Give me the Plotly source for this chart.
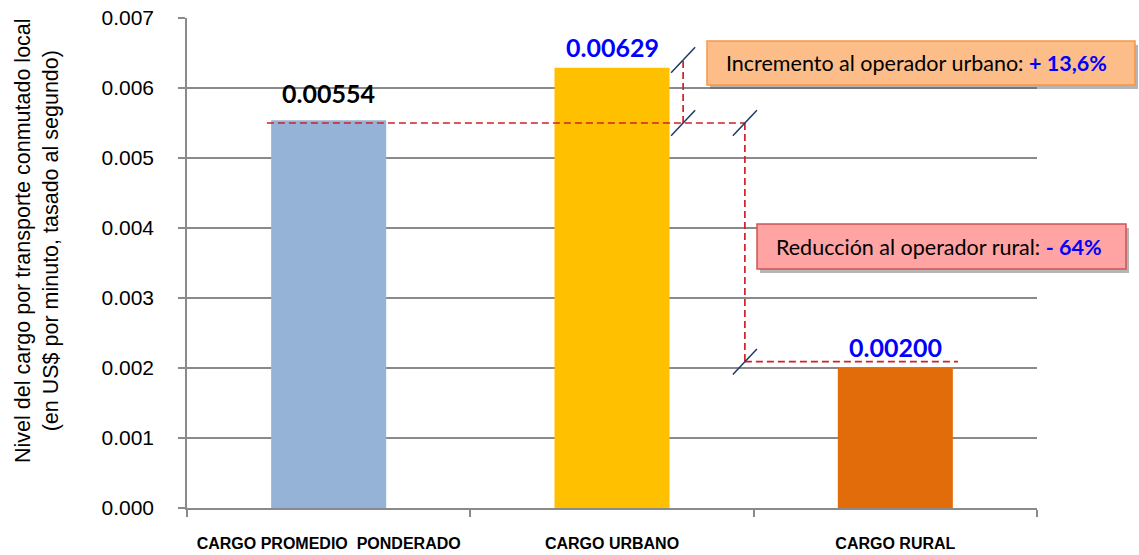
import plotly.graph_objects as go

# ---- data ----
categories = ["CARGO PROMEDIO\u00a0 PONDERADO", "CARGO URBANO", "CARGO RURAL"]
values = [0.00554, 0.00629, 0.00200]
value_labels = ["0.00554", "0.00629", "0.00200"]
increment_text = "Incremento al operador urbano: "
increment_value = "+ 13,6%"
reduction_text = "Reducción al operador rural: "
reduction_value = "- 64%"
y_title_lines = ["Nivel del cargo por transporte conmutado local",
                 "(en US$ por minuto, tasado al segundo)"]

# ---- styles ----
bar_colors = ["#95B3D7", "#FFC000", "#E36C0A"]
label_colors = ["#000000", "#0000FF", "#0000FF"]
label_shift = [27, 21, 21]
grid = "#8A8A8A"
red = "#D0202A"
navy = "#1F3864"

W, H = 1139, 555
L, R, T, B = 187, 102, 18, 47
pw, ph = W - L - R, H - T - B

def px(xp):  # pixel x -> paper
    return (xp - L) / pw

def py(yp):  # pixel y -> paper
    return (H - B - yp) / ph

fig = go.Figure()
fig.add_trace(go.Bar(x=categories, y=values, marker=dict(color=bar_colors, line=dict(width=0)),
                     hoverinfo="skip"))

shapes = []
dash = "7px,4px"
def dline(x0, y0, x1, y1):
    shapes.append(dict(type="line", xref="x", yref="y", x0=x0, y0=y0, x1=x1, y1=y1,
                       line=dict(color=red, width=1.7, dash=dash)))
dline(-0.218, 0.0055, 1.469, 0.0055)
dline(1.251, 0.0055, 1.251, 0.0064)
dline(1.469, 0.0055, 1.469, 0.00209)
dline(1.469, 0.00209, 2.221, 0.00209)

# break slashes
sx, sy = 0.0424, 0.000183
for cx, cy in [(1.251, 0.00640), (1.251, 0.0055), (1.469, 0.0055), (1.469, 0.00209)]:
    shapes.append(dict(type="line", xref="x", yref="y", x0=cx - sx, y0=cy - sy, x1=cx + sx, y1=cy + sy,
                       line=dict(color=navy, width=1.5)))

# callout boxes with shadows
def box(x0, y0, x1, y1, fill, border):
    shapes.append(dict(type="rect", xref="paper", yref="paper",
                       x0=px(x0 + 3), x1=px(x1 + 3), y0=py(y1 + 4), y1=py(y0 + 4),
                       fillcolor="rgba(90,90,90,0.45)", line=dict(width=0)))
    shapes.append(dict(type="rect", xref="paper", yref="paper",
                       x0=px(x0), x1=px(x1), y0=py(y1), y1=py(y0),
                       fillcolor=fill, line=dict(color=border, width=1.5)))

box(707, 41, 1135, 85, "#FCBD89", "#F79646")
box(757, 224, 1126, 269, "#FFA3A3", "#CC5555")

annotations = []
for c, v, t, col, s in zip(categories, values, value_labels, label_colors, label_shift):
    annotations.append(dict(x=c, y=v, xref="x", yref="y", text=f"<b>{t}</b>", showarrow=False,
                            yanchor="middle", yshift=s,
                            font=dict(family="Lato", size=25, color=col)))

annotations.append(dict(xref="paper", yref="paper", x=px(724), y=py(63), xanchor="left", yanchor="middle",
                        showarrow=False,
                        text=f"{increment_text}<b><span style='color:#0000FF'>{increment_value}</span></b>",
                        font=dict(family="Lato", size=21.5, color="#000000")))
annotations.append(dict(xref="paper", yref="paper", x=px(774), y=py(246.5), xanchor="left", yanchor="middle",
                        showarrow=False,
                        text=f"{reduction_text}<b><span style='color:#0000FF'>{reduction_value}</span></b>",
                        font=dict(family="Lato", size=21.5, color="#000000")))

annotations.append(dict(xref="paper", yref="paper", x=px(37), y=py(241), xanchor="center", yanchor="middle",
                        showarrow=False, textangle=-90, text="<br>".join(y_title_lines),
                        font=dict(family="Liberation Sans, Arial", size=21.5, color="#000000")))

fig.update_layout(
    width=W, height=H,
    margin=dict(l=L, r=R, t=T, b=B, pad=0),
    plot_bgcolor="white", paper_bgcolor="white",
    bargap=0.594,
    showlegend=False,
    shapes=shapes,
    annotations=annotations,
    xaxis=dict(type="category", showline=True, linecolor=grid, linewidth=1.5, automargin=False,
               ticks="outside", tickson="boundaries", ticklen=7, tickcolor=grid, tickwidth=1.5,
               showgrid=False, ticklabelstandoff=20,
               tickprefix="<b>", ticksuffix="</b>",
               tickfont=dict(family="Liberation Sans, Arial", size=16, color="#000000"),
               range=[-0.5, 2.5]),
    yaxis=dict(range=[0, 0.007], dtick=0.001, tickformat=".3f", showline=True, linecolor=grid,
               linewidth=1.5, ticks="outside", ticklen=7, tickcolor=grid, tickwidth=1.5, automargin=False,
               showgrid=True, gridcolor=grid, gridwidth=1.5, zeroline=False,
               ticklabelstandoff=20,
               tickfont=dict(family="Liberation Sans, Arial", size=21, color="#000000")),
)

fig.write_html("out.html", config={"displayModeBar": False},
               post_script="document.body.style.margin='0';document.body.style.overflow='hidden';")
